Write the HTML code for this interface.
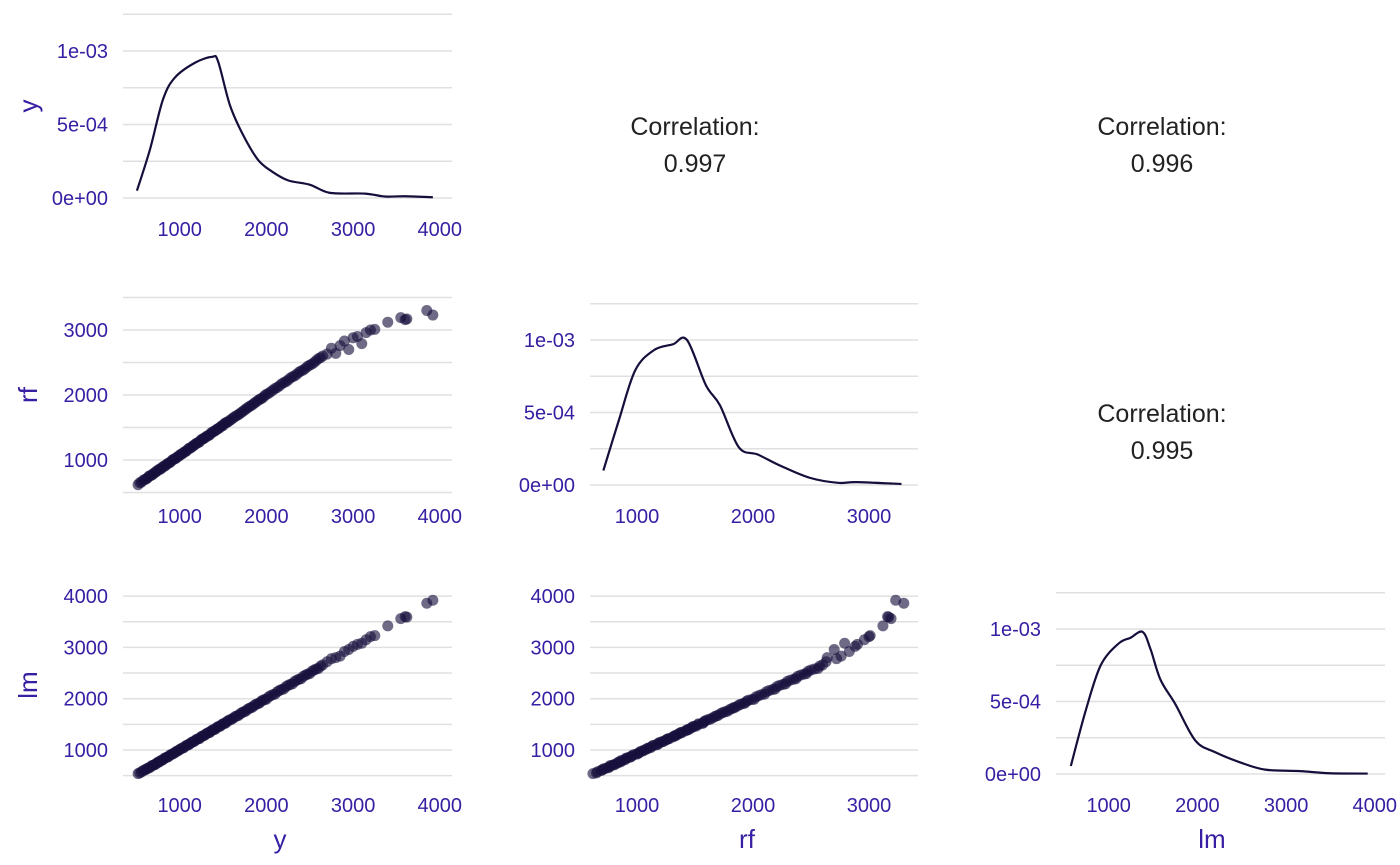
<!DOCTYPE html>
<html><head><meta charset="utf-8"><style>
html,body{margin:0;padding:0;background:#fff;}
svg{display:block;font-family:"Liberation Sans",Arial,sans-serif;}
.tk{fill:#371ea3;font-size:20px;}
.at{fill:#371ea3;font-size:26px;}
.cor{fill:#222;font-size:25px;text-anchor:middle;}
</style></head><body>
<svg id="c" width="1400" height="865" viewBox="0 0 1400 865"></svg>
<script>
const yVals=[520,540,560,580,600,615,630,645,660,675,690,705,720,735,750,765,780,795,810,825,840,855,870,885,900,915,930,945,960,975,990,1005,1020,1035,1050,1065,1080,1095,1110,1125,1140,1155,1170,1185,1200,1215,1230,1245,1260,1275,1290,1305,1320,1335,1350,1365,1380,1395,1410,1425,1440,1455,1470,1485,1500,1515,1530,1545,1560,1580,1600,1620,1640,1660,1680,1700,1720,1740,1760,1780,1800,1820,1840,1860,1880,1900,1920,1940,1960,1980,2000,2025,2050,2075,2100,2125,2150,2175,2200,2225,2250,2275,2300,2325,2350,2375,2400,2425,2450,2475,2500,2525,2550,2575,2600,2625,2650,2700,2750,2800,2850,2900,2950,3000,3050,3100,3150,3200,3250,3400,3550,3600,3620,3850,3920];
const rfVals=[620,650,660,690,700,710,725,750,760,765,780,800,810,830,840,860,860,880,900,905,920,940,950,960,975,1000,1010,1020,1030,1050,1060,1080,1090,1100,1120,1130,1140,1165,1180,1185,1200,1220,1230,1250,1260,1270,1280,1310,1320,1330,1340,1360,1370,1380,1390,1420,1430,1440,1450,1470,1480,1490,1510,1525,1530,1560,1570,1580,1590,1610,1630,1650,1670,1685,1700,1720,1740,1760,1780,1800,1820,1835,1850,1875,1890,1915,1930,1945,1960,1990,2010,2025,2050,2075,2100,2115,2140,2170,2190,2205,2230,2260,2280,2295,2320,2350,2370,2385,2410,2440,2460,2475,2500,2530,2560,2575,2600,2630,2720,2640,2760,2830,2700,2880,2900,2790,2960,3000,3010,3120,3190,3160,3170,3300,3230];
const lmVals=[540,555,575,600,610,630,640,655,665,690,700,710,720,745,760,770,790,800,815,840,850,860,870,895,910,920,935,950,970,980,995,1015,1030,1040,1050,1075,1090,1100,1110,1135,1150,1160,1170,1195,1210,1220,1225,1255,1270,1280,1290,1315,1330,1340,1345,1375,1390,1400,1405,1435,1450,1460,1465,1495,1510,1520,1525,1555,1570,1590,1600,1625,1650,1665,1675,1710,1730,1745,1755,1790,1810,1825,1835,1870,1890,1905,1915,1950,1970,1985,1990,2035,2060,2080,2090,2135,2160,2180,2190,2235,2260,2280,2290,2335,2360,2380,2390,2435,2460,2480,2490,2535,2560,2580,2590,2635,2660,2720,2780,2800,2830,2920,2960,3020,3060,3080,3150,3210,3230,3420,3560,3600,3590,3860,3920];
const densYx=[507,657,807,946,1176,1372,1442,1580,1730,1903,2065,2250,2503,2734,3137,3368,3600,3920];
const densYd=[0.05e-3,0.33e-3,0.67e-3,0.82e-3,0.92e-3,0.96e-3,0.93e-3,0.63e-3,0.43e-3,0.26e-3,0.18e-3,0.12e-3,0.09e-3,0.035e-3,0.03e-3,0.01e-3,0.012e-3,0.005e-3];
const densRfx=[710,845,984,1146,1309,1431,1593,1715,1878,2041,2244,2488,2732,2894,3280];
const densRfd=[0.1e-3,0.45e-3,0.79e-3,0.93e-3,0.97e-3,1.0e-3,0.69e-3,0.55e-3,0.26e-3,0.21e-3,0.13e-3,0.05e-3,0.015e-3,0.02e-3,0.007e-3];
const densLmx=[573,742,910,1112,1247,1382,1472,1584,1753,1978,2202,2483,2764,3157,3494,3920];
const densLmd=[0.055e-3,0.44e-3,0.75e-3,0.9e-3,0.94e-3,0.98e-3,0.86e-3,0.65e-3,0.48e-3,0.23e-3,0.15e-3,0.08e-3,0.03e-3,0.02e-3,0.005e-3,0.003e-3];
const xTicks1=[1000,2000,3000,4000];
const xTicks2=[1000,2000,3000];
const densTicks=[0,5e-4,1e-3];
const densTickLabels=["0e+00","5e-04","1e-03"];
const rfTicks=[1000,2000,3000];
const lmTicks=[1000,2000,3000,4000];
const corrs=["0.997","0.996","0.995"];

const svg=document.getElementById('c');
const NS='http://www.w3.org/2000/svg';
function mk(tag,attrs,parent){const e=document.createElementNS(NS,tag);for(const k in attrs)e.setAttribute(k,attrs[k]);(parent||svg).appendChild(e);return e;}
const cols=[{x0:123,x1:452,s:v=>93+0.0867*v,ticks:xTicks1,cx:695},{x0:590,x1:918,s:v=>521+0.116*v,ticks:xTicks2,cx:1162},{x0:1056,x1:1385,s:v=>1020+0.0887*v,ticks:xTicks1}];
const rows=[{dens:d=>198-d*147000,lab:236},{dens:d=>485-d*145000,val:v=>460-(v-1000)*0.065,lab:523,ticks:rfTicks,grid:[500,1000,1500,2000,2500,3000,3500]},{dens:d=>774-d*145000,val:v=>750-(v-1000)*0.0513,lab:812,ticks:lmTicks,grid:[500,1000,1500,2000,2500,3000,3500,4000]}];
const vars=[yVals,rfVals,lmVals];
const dens=[[densYx,densYd],[densRfx,densRfd],[densLmx,densLmd]];
const names=['y','rf','lm'];

function hline(g,y,x0,x1){const l=mk('line',{x1:x0,x2:x1,y1:y,y2:y,stroke:'#e0e0e0','stroke-width':1.5},g);

}
function text(g,x,y,t,cls,anchor,name){const e=mk('text',{x:x,y:y,class:cls,'text-anchor':anchor},g);e.textContent=t;

return e;}
function smooth(pts){let d='M'+pts[0][0]+','+pts[0][1];for(let i=0;i<pts.length-1;i++){const p0=pts[Math.max(0,i-1)],p1=pts[i],p2=pts[i+1],p3=pts[Math.min(pts.length-1,i+2)];
const c1=[p1[0]+(p2[0]-p0[0])/6,p1[1]+(p2[1]-p0[1])/6],c2=[p2[0]-(p3[0]-p1[0])/6,p2[1]-(p3[1]-p1[1])/6];d+=' C'+c1[0]+','+c1[1]+' '+c2[0]+','+c2[1]+' '+p2[0]+','+p2[1];}return d;}

for(let r=0;r<3;r++){for(let c=0;c<3;c++){
  const col=cols[c],row=rows[r];
  const g=mk('g',{});
  
  
  if(c>r){
    const cx=cols[c-1].cx, cy=r===0?0:287;
    text(g,cx,135+cy,'Correlation:','cor','middle','correlation-label');
    text(g,cx,172+cy,corrs[r+c-1],'cor','middle','correlation-value');
    continue;
  }
  col.ticks.forEach(t=>{text(g,col.s(t),row.lab,String(t),'tk','middle','x-tick-label');});
  if(r===c){
    [0,2.5e-4,5e-4,7.5e-4,1e-3,1.25e-3].forEach(d=>hline(g,row.dens(d),col.x0,col.x1));
    densTicks.forEach((d,i)=>text(g,col.x0-15,row.dens(d)+7,densTickLabels[i],'tk','end','y-tick-label'));
    const [xs,ds]=dens[c];
    const pts=xs.map((x,i)=>[col.s(x),row.dens(ds[i])]);
    const p=mk('path',{d:smooth(pts),fill:'none',stroke:'#160e3b','stroke-width':2.2},g);
    
    
  } else {
    row.grid.forEach(v=>hline(g,row.val(v),col.x0,col.x1));
    row.ticks.forEach(t=>text(g,col.x0-15,row.val(t)+7,String(t),'tk','end','y-tick-label'));
    const xv=vars[c],yv=vars[r];
    for(let i=0;i<xv.length;i++){
      const pt=mk('circle',{cx:col.s(xv[i]),cy:row.val(yv[i]),r:5.5,fill:'#160e3b','fill-opacity':0.62},g);
      
      
    }
  }
}}
function rot(x,y,t){const e=mk('text',{x:x,y:y,class:'at','text-anchor':'middle',transform:'rotate(-90 '+x+' '+y+')'});e.textContent=t;

}
rot(37,106,'y');rot(37,395,'rf');rot(37,685,'lm');
text(svg,280,848,'y','at','middle','x-axis-title-y');
text(svg,747,848,'rf','at','middle','x-axis-title-rf');
text(svg,1212,848,'lm','at','middle','x-axis-title-lm');
</script>
</body></html>
